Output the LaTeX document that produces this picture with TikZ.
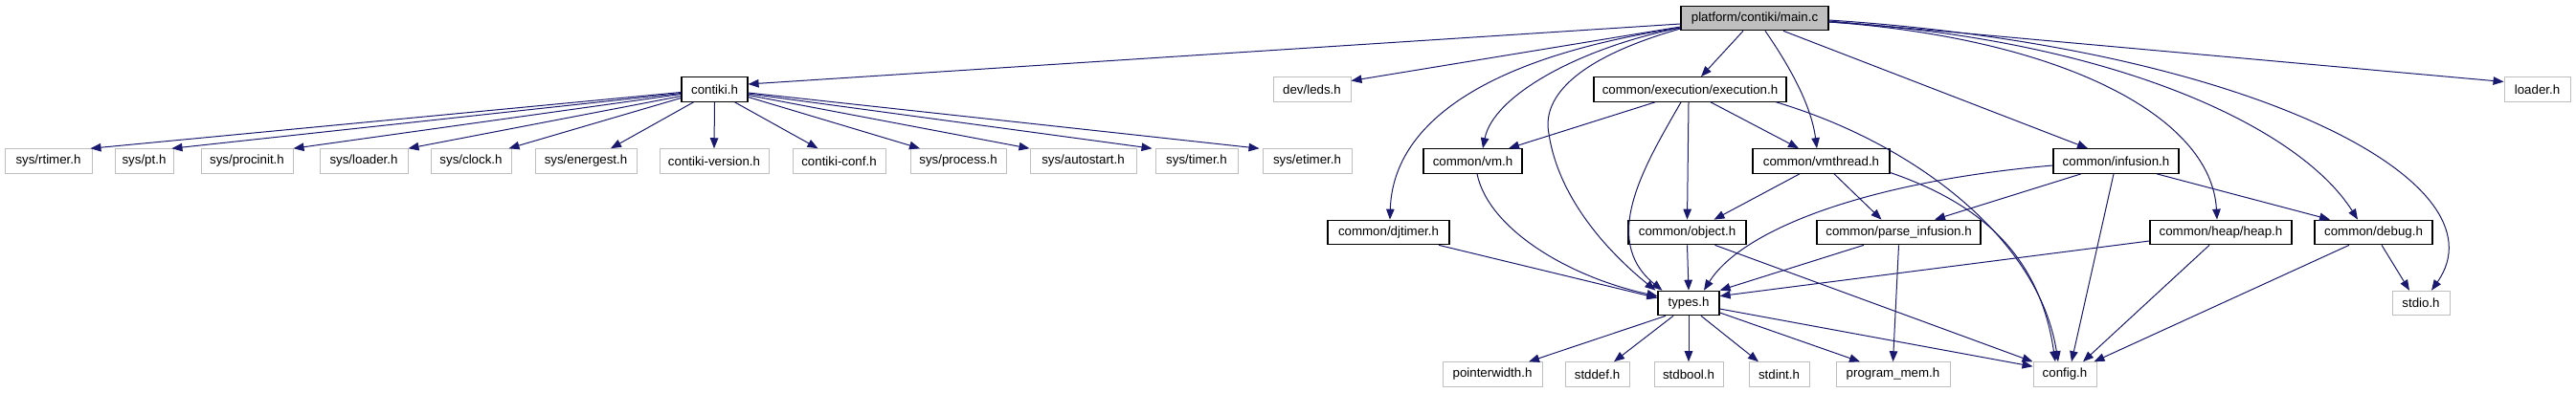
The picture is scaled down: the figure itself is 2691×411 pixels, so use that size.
\documentclass[tikz,border=0pt]{standalone}
\usepackage{fontspec}
\setmainfont{Liberation Sans}
\usetikzlibrary{arrows.meta}
\definecolor{edgec}{HTML}{191970}
\definecolor{grayb}{HTML}{BFBFBF}
\begin{document}
\begin{tikzpicture}[x=1pt,y=-1pt,
  every node/.style={font=\fontsize{13.3}{16}\selectfont, inner sep=0pt, minimum height=25.5pt, rectangle},
  doc/.style={draw=black, line width=1.2pt, fill=white},
  undoc/.style={draw=grayb, line width=1pt, fill=white},
  root/.style={draw=black, line width=1.2pt, fill=grayb},
  edge/.style={draw=edgec, line width=1pt, -{Triangle[length=11pt,width=8.5pt]}}]
\useasboundingbox[fill=white] (0,0) rectangle (2691,411);
% nodes
\node[root, minimum width=154] (main) at (1833,19) {platform/contiki/main.c};
\node[doc, minimum width=69] (contiki) at (746.5,93.5) {contiki.h};
\node[undoc, minimum width=81] (leds) at (1370.5,93.5) {dev/leds.h};
\node[doc, minimum width=201] (exec) at (1765.5,93.5) {common/execution/execution.h};
\node[undoc, minimum width=69] (loader) at (2650.5,93.5) {loader.h};
\node[undoc, minimum width=91] (rtimer) at (50.5,168.5) {sys/rtimer.h};
\node[undoc, minimum width=61] (pt) at (150.5,168.5) {sys/pt.h};
\node[undoc, minimum width=96] (procinit) at (258,168.5) {sys/procinit.h};
\node[undoc, minimum width=92] (sysloader) at (380,168.5) {sys/loader.h};
\node[undoc, minimum width=84] (clock) at (492,168.5) {sys/clock.h};
\node[undoc, minimum width=106] (energest) at (612,168.5) {sys/energest.h};
\node[undoc, minimum width=114] (cversion) at (746,168.5) {contiki-version.h};
\node[undoc, minimum width=97] (cconf) at (876.5,168.5) {contiki-conf.h};
\node[undoc, minimum width=100] (process) at (1001,168.5) {sys/process.h};
\node[undoc, minimum width=111] (autostart) at (1131.5,168.5) {sys/autostart.h};
\node[undoc, minimum width=86] (timer) at (1250,168.5) {sys/timer.h};
\node[undoc, minimum width=93] (etimer) at (1365.5,168.5) {sys/etimer.h};
\node[doc, minimum width=103] (vm) at (1538.5,168.5) {common/vm.h};
\node[doc, minimum width=143] (vmthread) at (1902.5,168.5) {common/vmthread.h};
\node[doc, minimum width=131] (infusion) at (2210.5,168.5) {common/infusion.h};
\node[doc, minimum width=127] (djtimer) at (1450.5,243) {common/djtimer.h};
\node[doc, minimum width=123] (object) at (1762.5,243) {common/object.h};
\node[doc, minimum width=171] (parse) at (1983.5,243) {common/parse\_infusion.h};
\node[doc, minimum width=148] (heap) at (2320,243) {common/heap/heap.h};
\node[doc, minimum width=123] (debug) at (2479.5,243) {common/debug.h};
\node[doc, minimum width=64] (types) at (1764,317) {types.h};
\node[undoc, minimum width=60] (stdio) at (2529,317) {stdio.h};
\node[undoc, minimum width=104] (pointerwidth) at (1559,391.5) {pointerwidth.h};
\node[undoc, minimum width=67] (stddef) at (1668.5,391.5) {stddef.h};
\node[undoc, minimum width=72] (stdbool) at (1764,391.5) {stdbool.h};
\node[undoc, minimum width=63] (stdint) at (1858.5,391.5) {stdint.h};
\node[undoc, minimum width=119] (progmem) at (1977.5,391.5) {program\_mem.h};
\node[undoc, minimum width=66] (config) at (2157,391.5) {config.h};
% contiki.h edges
\draw[edge] ([yshift=-3pt]contiki.west) -- ([xshift=-2pt]rtimer.north east);
\draw[edge] ([yshift=-4pt]contiki.west) -- ([xshift=-2pt]pt.north east);
\draw[edge] ([yshift=-5pt]contiki.west) -- (procinit.north east);
\draw[edge] ([yshift=-7pt]contiki.west) -- (sysloader.north east);
\draw[edge] ([yshift=-9pt]contiki.west) -- ([xshift=-3pt]clock.north east);
\draw[edge] ([xshift=-22pt]contiki.south) -- ([xshift=26pt]energest.north);
\draw[edge] (contiki.south) -- (cversion.north);
\draw[edge] ([xshift=21pt]contiki.south) -- ([xshift=-22pt]cconf.north);
\draw[edge] ([yshift=-8pt]contiki.east) -- ([xshift=-40pt]process.north);
\draw[edge] ([yshift=-6pt]contiki.east) -- (autostart.north west);
\draw[edge] ([yshift=-4.5pt]contiki.east) -- ([xshift=-3pt]timer.north west);
\draw[edge] ([yshift=-3.5pt]contiki.east) -- ([xshift=-3pt]etimer.north west);
% main.c edges
\draw[edge] ([yshift=-6pt]main.west) -- ([yshift=5.5pt]contiki.east);
\draw[edge] ([yshift=-9pt]main.west) -- ([yshift=9pt]leds.east);
\draw[edge] ([xshift=-12pt]main.south) -- ([xshift=11.5pt]exec.north);
\draw[edge] ([xshift=11pt]main.south) .. controls (1870,70) and (1892,110) .. ([xshift=-4.5pt]vmthread.north);
\draw[edge] ([xshift=30pt]main.south) -- ([xshift=-29.5pt]infusion.north);
\draw[edge] ([yshift=-3pt]main.east) -- ([yshift=8pt]loader.west);
\draw[edge] ([yshift=-4pt]main.east) .. controls (2150,40) and (2310,120) .. ([xshift=-4pt]heap.north);
\draw[edge] ([yshift=-4pt]main.east) .. controls (2200,40) and (2400,130) .. ([xshift=-16.5pt]debug.north);
\draw[edge] ([yshift=-2pt]main.east) .. controls (2350,50) and (2620,190) .. ([xshift=11pt]stdio.north);
\draw[edge] ([yshift=-10pt]main.west) .. controls (1650,50) and (1560,100) .. ([xshift=10.5pt]vm.north);
\draw[edge] ([yshift=-10pt]main.west) .. controls (1550,60) and (1455,130) .. ([xshift=1.5pt]djtimer.north);
\draw[edge] ([yshift=-11pt]main.west) .. controls (1650,60) and (1610,100) .. (1618,140) .. controls (1630,220) and (1700,280) .. ([xshift=-2pt]types.north west);
% execution.h edges
\draw[edge] ([xshift=-36.5pt]exec.south) -- ([xshift=37.5pt]vm.north);
\draw[edge] ([xshift=-9.5pt]exec.south) .. controls (1720,170) and (1670,250) .. ([xshift=5pt]types.north west);
\draw[edge] ([xshift=-1.5pt]exec.south) -- (object.north);
\draw[edge] ([xshift=21.5pt]exec.south) -- ([xshift=-23.5pt]vmthread.north);
\draw[edge] ([xshift=90pt]exec.south) .. controls (2000,150) and (2130,250) .. ([xshift=-7pt]config.north);
% vm.h, djtimer.h
\draw[edge] ([xshift=4.5pt]vm.south) .. controls (1555,240) and (1640,290) .. ([yshift=-6pt]types.north west);
\draw[edge] ([xshift=52.5pt]djtimer.south) -- ([yshift=-8pt]types.north west);
% vmthread.h
\draw[edge] ([xshift=-22.5pt]vmthread.south) -- ([xshift=28pt]object.north);
\draw[edge] ([xshift=13.5pt]vmthread.south) -- ([xshift=-18pt]parse.north);
\draw[edge] ([yshift=-12pt]vmthread.east) .. controls (2060,210) and (2130,260) .. ([xshift=-10pt]config.north);
% infusion.h
\draw[edge] ([yshift=-4.5pt]infusion.west) .. controls (1950,190) and (1820,240) .. ([xshift=16pt]types.north);
\draw[edge] ([xshift=-36.5pt]infusion.south) -- ([xshift=37.5pt]parse.north);
\draw[edge] ([xshift=-2.5pt]infusion.south) -- ([xshift=7pt]config.north);
\draw[edge] ([xshift=42.5pt]infusion.south) -- ([xshift=-45.5pt]debug.north);
% parse_infusion.h, object.h, heap.h, debug.h
\draw[edge] ([xshift=-36.5pt]parse.south) -- (types.north east);
\draw[edge] (parse.south) -- (progmem.north);
\draw[edge] (object.south) -- (types.north);
\draw[edge] ([xshift=29pt]object.south) -- (config.north west);
\draw[edge] ([yshift=-9pt]heap.west) -- ([yshift=-6pt]types.north east);
\draw[edge] ([xshift=-12pt]heap.south) -- ([xshift=19pt]config.north);
\draw[edge] ([xshift=8.5pt]debug.south) -- ([xshift=-12pt]stdio.north);
\draw[edge] ([xshift=-25.5pt]debug.south) -- ([xshift=-3pt]config.north east);
% types.h
\draw[edge] ([xshift=-24pt]types.south) -- ([xshift=38pt]pointerwidth.north);
\draw[edge] ([xshift=-16pt]types.south) -- ([xshift=17.5pt]stddef.north);
\draw[edge] (types.south) -- (stdbool.north);
\draw[edge] ([xshift=13pt]types.south) -- ([xshift=-21.5pt]stdint.north);
\draw[edge] ([yshift=-10pt]types.east) -- ([xshift=-34.5pt]progmem.north);
\draw[edge] ([yshift=-6pt]types.east) -- ([yshift=-5pt]config.north west);
\end{tikzpicture}
\end{document}
